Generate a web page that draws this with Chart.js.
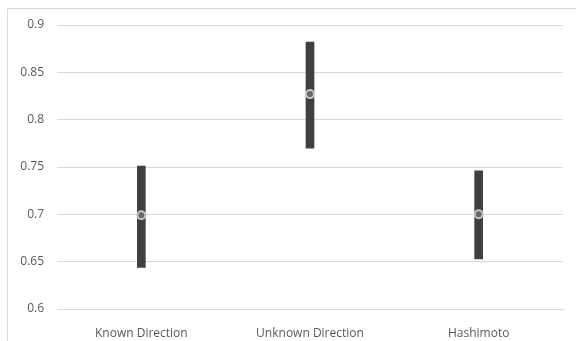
<!DOCTYPE html>
<html>
<head>
<meta charset="utf-8">
<script src="https://cdn.jsdelivr.net/npm/chart.js@4/dist/chart.umd.min.js"></script>
<style>
html,body{margin:0;padding:0;background:#fff;}
#wrap{width:576px;height:341px;position:relative;}
</style>
</head>
<body>
<div id="wrap"><canvas id="c" width="576" height="341"></canvas></div>
<script>
const categories = ["Known Direction", "Unknown Direction", "Hashimoto"];
const lowValues = [0.644, 0.770, 0.653];
const highValues = [0.751, 0.882, 0.746];
const midValues = [0.699, 0.827, 0.700];
const yTicks = [0.6, 0.65, 0.7, 0.75, 0.8, 0.85, 0.9];

const frame = {
  id: 'frame',
  beforeDraw(chart) {
    const ctx = chart.ctx;
    ctx.save();
    ctx.strokeStyle = '#d9d9d9';
    ctx.lineWidth = 1;
    ctx.beginPath();
    ctx.moveTo(7.5, 341);
    ctx.lineTo(7.5, 8.5);
    ctx.lineTo(576, 8.5);
    ctx.stroke();
    ctx.restore();
  }
};

new Chart(document.getElementById('c'), {
  data: {
    labels: categories,
    datasets: [
      {
        type: 'line',
        data: midValues,
        showLine: false,
        pointStyle: 'circle',
        pointRadius: 4,
        pointBackgroundColor: '#686868',
        pointBorderColor: '#c4c4c4',
        pointBorderWidth: 2,
        order: 0
      },
      {
        type: 'bar',
        data: categories.map((c, i) => [lowValues[i], highValues[i]]),
        backgroundColor: '#404040',
        barThickness: 8,
        borderSkipped: false,
        order: 1
      }
    ]
  },
  options: {
    responsive: false,
    animation: false,
    layout: { padding: { top: 25, right: 13, left: 0, bottom: 0 } },
    plugins: { legend: { display: false }, tooltip: { enabled: false } },
    scales: {
      x: {
        grid: { display: false },
        border: { display: true, color: '#d9d9d9' },
        ticks: { color: '#595959', font: { family: 'Open Sans', size: 12 }, padding: 9, maxRotation: 0 },
        afterFit(s) { s.height = 32; }
      },
      y: {
        min: 0.6, max: 0.9,
        afterBuildTicks(s) { s.ticks = yTicks.map(v => ({ value: v })); },
        grid: { color: '#d9d9d9', drawTicks: false },
        border: { display: false },
        ticks: { color: '#595959', font: { family: 'Open Sans', size: 12 }, padding: 13,
          callback: v => String(+v.toFixed(2)) },
        afterFit(s) { s.width = 57; }
      }
    }
  },
  plugins: [frame]
});
</script>
</body>
</html>
